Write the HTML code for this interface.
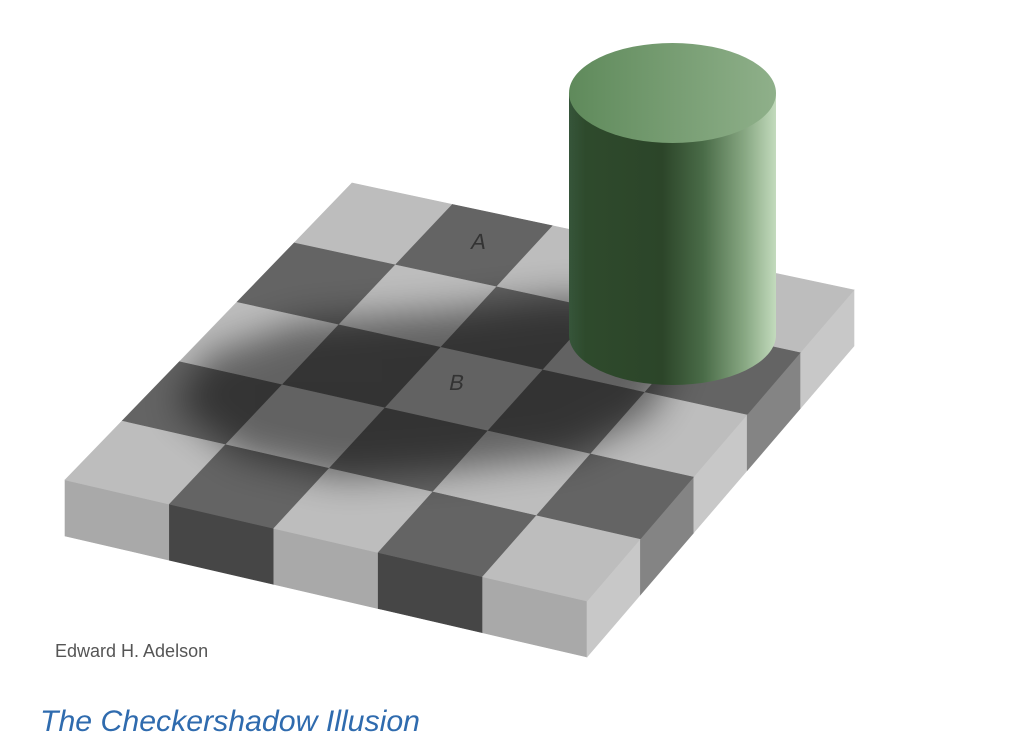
<!DOCTYPE html>
<html><head><meta charset="utf-8"><style>
html,body{margin:0;padding:0;background:#fff;width:1012px;height:754px;overflow:hidden}
svg{display:block}
</style></head><body>
<svg id="fig" width="1012" height="754" viewBox="0 0 1012 754" xmlns="http://www.w3.org/2000/svg">
<defs>
<filter id="blur" x="-50%" y="-50%" width="200%" height="200%"><feGaussianBlur stdDeviation="18"/></filter>
<clipPath id="topClip"><polygon points="65,480 587,601 854,290 352,183"/></clipPath>
<linearGradient id="body" x1="0" x2="1" y1="0" y2="0">
<stop offset="0" stop-color="#36553a"/><stop offset="0.08" stop-color="#2e4a2c"/>
<stop offset="0.45" stop-color="#2c4529"/><stop offset="0.65" stop-color="#4a6c48"/>
<stop offset="0.85" stop-color="#88a883"/><stop offset="1" stop-color="#c3dbbd"/>
</linearGradient>
<linearGradient id="topg" x1="0" x2="1" y1="0" y2="0">
<stop offset="0" stop-color="#5f8a5b"/><stop offset="1" stop-color="#8fb08a"/>
</linearGradient>
</defs>
<g id="frontFace"></g>
<g id="rightFace"></g>
<g id="topSurface"></g>
<g clip-path="url(#topClip)">
<polygon filter="url(#blur)" fill="#000" opacity="0.48" points="580,295 680,355 650,415 570,455 450,470 340,478 240,455 175,405 205,355 300,322 450,310"/>
</g>
<text x="470" y="249" font-family="Liberation Sans, sans-serif" font-size="22" fill="#333" transform="skewX(-12)" transform-origin="470 249">A</text>
<text x="448" y="390" font-family="Liberation Sans, sans-serif" font-size="22" fill="#333" transform="skewX(-12)" transform-origin="448 390">B</text>
<g>
<path d="M569,93 L569,335 A103.5,50 0 0 0 776,335 L776,93 Z" fill="url(#body)"/>
<ellipse cx="672.5" cy="93" rx="103.5" ry="50" fill="url(#topg)"/>
</g>
<text x="55" y="657" font-family="Liberation Sans, sans-serif" font-size="18" fill="#555">Edward H. Adelson</text>
<text x="40" y="731" font-family="Liberation Sans, sans-serif" font-style="italic" font-size="30" textLength="380" lengthAdjust="spacingAndGlyphs" fill="#2f6bae">The Checkershadow Illusion</text>
</svg>
<script>
const L=[65,480],F=[587,601],B=[352,183],R=[854,290];
const N=5, H=56;
function P(u,v){
  return [L[0]+u*(F[0]-L[0])+v*(B[0]-L[0])+u*v*(R[0]-F[0]-B[0]+L[0]),
          L[1]+u*(F[1]-L[1])+v*(B[1]-L[1])+u*v*(R[1]-F[1]-B[1]+L[1])];
}
const ns="http://www.w3.org/2000/svg";
function poly(g,pts,fill,name){
  const p=document.createElementNS(ns,'polygon');
  p.setAttribute('points',pts.map(q=>q[0].toFixed(1)+','+q[1].toFixed(1)).join(' '));
  p.setAttribute('fill',fill);p.setAttribute('stroke',fill);p.setAttribute('stroke-width','0.6');
  
  
  g.appendChild(p);
}
const topG=document.getElementById('topSurface');
for(let i=0;i<N;i++)for(let j=0;j<N;j++){
  const c=((i+j)%2===0)?'#bdbdbd':'#646464';
  poly(topG,[P(i/N,j/N),P((i+1)/N,j/N),P((i+1)/N,(j+1)/N),P(i/N,(j+1)/N)],c,'square-'+i+'-'+j);
}
const frG=document.getElementById('frontFace');
for(let i=0;i<N;i++){
  const a=P(i/N,0),b=P((i+1)/N,0);
  poly(frG,[a,b,[b[0],b[1]+H],[a[0],a[1]+H]],i%2===0?'#a9a9a9':'#464646','front-block-'+i);
}
const rtG=document.getElementById('rightFace');
for(let j=0;j<N;j++){
  const a=P(1,j/N),b=P(1,(j+1)/N);
  poly(rtG,[a,b,[b[0],b[1]+H],[a[0],a[1]+H]],j%2===0?'#c8c8c8':'#848484','right-block-'+j);
}
</script>
</body></html>
